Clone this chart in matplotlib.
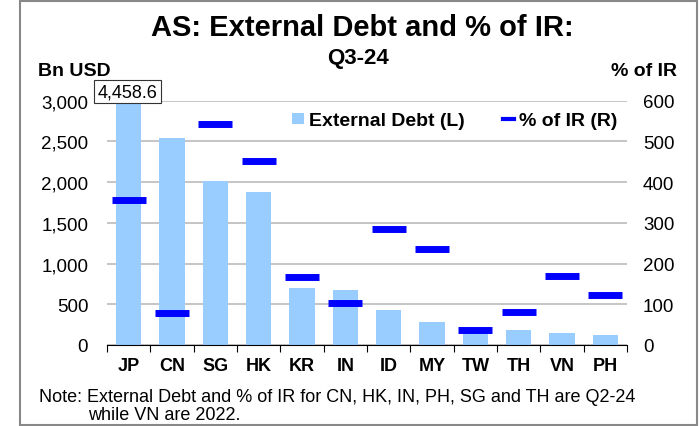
import matplotlib
matplotlib.use("Agg")
import matplotlib.pyplot as plt
from matplotlib.patches import Rectangle, Patch
from matplotlib.lines import Line2D
import numpy as np

plt.rcParams["font.family"] = ["Liberation Sans", "DejaVu Sans"]

countries = ["JP", "CN", "SG", "HK", "KR", "IN", "ID", "MY", "TW", "TH", "VN", "PH"]
ext_debt = [4458.6, 2540, 2008, 1878, 694, 673, 425, 278, 160, 180, 143, 122]
pct_ir = [357, 79, 544, 453, 167, 104, 285, 237, 36, 82, 170, 123]

bar_color = "#99CCFF"
mark_color = "#0000FF"

fig = plt.figure(figsize=(7, 4.27), dpi=100)
ax = fig.add_axes([107 / 700, 1 - 346 / 427, 520 / 700, 244.3 / 427])
ax2 = ax.twinx()

x = np.arange(len(countries))
ax.bar(x, ext_debt, width=0.58, color=bar_color, zorder=2)
ax2.plot(x, pct_ir, linestyle="none", marker="_", markersize=25,
         markeredgewidth=5, color=mark_color, zorder=3)

ax.set_xlim(-0.5, len(countries) - 0.5)
ax.set_ylim(0, 3000)
ax2.set_ylim(0, 600)
ax.set_yticks(np.arange(0, 3001, 500))
ax.set_yticklabels([f"{v:,}" for v in range(0, 3001, 500)])
ax2.set_yticks(np.arange(0, 601, 100))
ax.yaxis.grid(True, color="#BBBBBB", linewidth=1.2, zorder=0)
ax.set_axisbelow(True)

for a in (ax, ax2):
    for s in ("left", "right", "top"):
        a.spines[s].set_visible(False)
    a.tick_params(axis="y", length=0, labelsize=13.5)
ax2.spines["bottom"].set_visible(False)
ax.spines["bottom"].set_color("black")
ax.tick_params(axis="y", pad=13.5)
ax2.tick_params(axis="y", pad=11.5)

# category ticks sit between bars
ax.set_xticks(np.arange(-0.5, len(countries), 1.0))
ax.set_xticklabels([])
ax.set_xticks(x, minor=True)
ax.set_xticklabels(countries, minor=True, fontsize=13, fontweight="bold")
ax.tick_params(axis="x", which="major", direction="out", length=5, color="black")
ax.tick_params(axis="x", which="minor", length=0, pad=8.5)

# value label for the clipped JP bar
ax.text(0 - 0.03, 1.037, f"{ext_debt[0]:,.1f}", transform=ax.get_xaxis_transform(),
        ha="center", va="center", fontsize=13,
        bbox=dict(boxstyle="square,pad=0.18", fc="white", ec="#333333", lw=0.8))

handles = [Patch(facecolor=bar_color, edgecolor="none"),
           Line2D([0], [0], color=mark_color, lw=3)]
ax.legend(handles, ["External Debt (L)", "% of IR (R)"], ncol=2, frameon=False,
          loc="center", bbox_to_anchor=(455 / 700, 1 - 122 / 427),
          bbox_transform=fig.transFigure, prop={"weight": "bold", "size": 14},
          handlelength=0.6, handleheight=0.5, handletextpad=0.26,
          columnspacing=1.95, borderpad=0, borderaxespad=0)

fig.text(362 / 700, 1 - 28 / 427, "AS: External Debt and % of IR:", ha="center",
         va="center", fontsize=21, fontweight="bold")
fig.text(358 / 700, 1 - 59 / 427, "Q3-24", ha="center", va="center",
         fontsize=16, fontweight="bold")
fig.text(38 / 700, 1 - 71.5 / 427, "Bn USD", ha="left", va="center",
         fontsize=14, fontweight="bold")
fig.text(677 / 700, 1 - 71.5 / 427, "% of IR", ha="right", va="center",
         fontsize=14, fontweight="bold")
fig.text(39 / 700, 1 - 398 / 427,
         "Note: External Debt and % of IR for CN, HK, IN, PH, SG and TH are Q2-24",
         ha="left", va="center", fontsize=13)
fig.text(88 / 700, 1 - 416 / 427, "while VN are 2022.", ha="left", va="center",
         fontsize=13)

fig.patches.append(Rectangle((20 / 700, 1 - 426 / 427), 677 / 700, 424 / 427,
                             transform=fig.transFigure, fill=False,
                             edgecolor="#888888", lw=1.5))

fig.savefig("out.png", dpi=100)
